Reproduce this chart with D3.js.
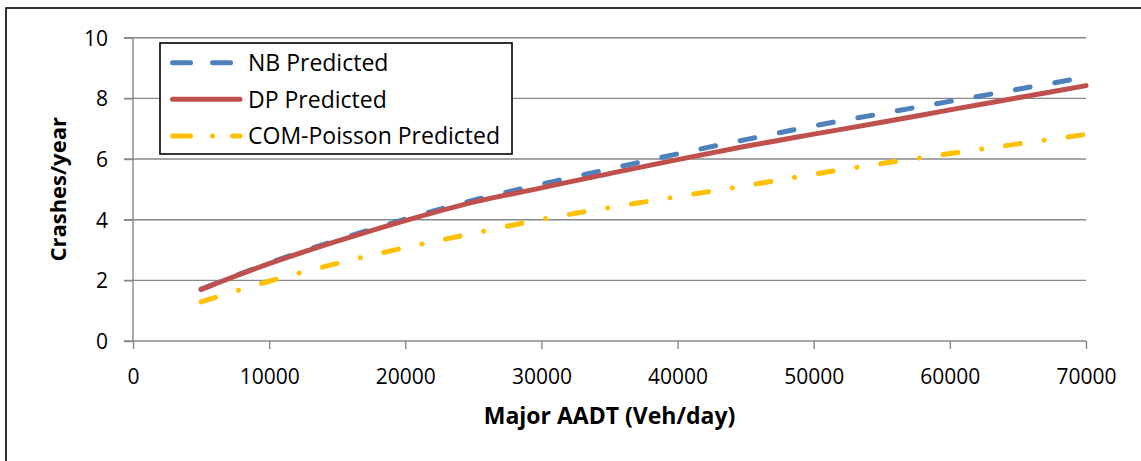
<!DOCTYPE html>
<html>
<head>
<meta charset="utf-8">
<script src="https://cdn.jsdelivr.net/npm/d3@7"></script>
<style>
  body { margin: 0; background: #fff; }
  text { font-family: 'Open Sans', sans-serif; fill: #000; }
</style>
</head>
<body>
<div id="chart"></div>
<script>
// values
const aadt = [5000, 10000, 15000, 20000, 25000, 30000, 35000, 40000, 45000, 50000, 55000, 60000, 65000, 70000]
const nbPredicted = [1.7, 2.57, 3.33, 4.02, 4.64, 5.17, 5.67, 6.17, 6.64, 7.09, 7.5, 7.9, 8.3, 8.7]
const dpPredicted = [1.7, 2.55, 3.29, 3.97, 4.58, 5.05, 5.52, 5.98, 6.42, 6.82, 7.21, 7.62, 8.02, 8.42]
const comPredicted = [1.29, 1.97, 2.56, 3.08, 3.55, 4.01, 4.4, 4.76, 5.12, 5.5, 5.85, 6.18, 6.5, 6.81]
const xTicks = [0, 10000, 20000, 30000, 40000, 50000, 60000, 70000]
const yTicks = [0, 2, 4, 6, 8, 10]

const series = [
  { name: 'NB Predicted', values: nbPredicted, color: '#4F81BD', dash: '15 25' },
  { name: 'DP Predicted', values: dpPredicted, color: '#C0504D', dash: null },
  { name: 'COM-Poisson Predicted', values: comPredicted, color: '#FFC000', dash: '15 24 0.1 24' },
]

const width = 1141
const height = 461
const margin = { top: 37.7, right: 55, bottom: 120, left: 133 }
const plotW = width - margin.left - margin.right
const plotH = height - margin.top - margin.bottom

const svg = d3.select('#chart').append('svg').attr('width', width).attr('height', height)

// outer frame
svg.append('rect')
  .attr('x', 6).attr('y', 8)
  .attr('width', width + 10).attr('height', height + 10)
  .attr('fill', 'none').attr('stroke', '#000').attr('stroke-width', 1.6)

const g = svg.append('g').attr('transform', `translate(${margin.left},${margin.top})`)

const x = d3.scaleLinear().domain([0, 70000]).range([0, plotW])
const y = d3.scaleLinear().domain([0, 10]).range([plotH, 0])

// grid lines
g.append('g')
  .selectAll('line')
  .data(yTicks.filter((d) => d > 0))
  .join('line')
  .attr('x1', -9).attr('x2', plotW)
  .attr('y1', (d) => y(d)).attr('y2', (d) => y(d))
  .attr('stroke', '#888').attr('stroke-width', 1.4)

// Y axis
const yAxis = g.append('g')
  .call(d3.axisLeft(y).tickValues(yTicks).tickSize(9).tickPadding(16))
yAxis.select('.domain').attr('stroke', '#888').attr('stroke-width', 1.4).attr('d', `M0,${plotH}V0`)
yAxis.selectAll('.tick line').attr('stroke', '#888').attr('stroke-width', 1.4)
yAxis.selectAll('text').style('font-size', '21px').attr('dy', '0.36em')

// X axis
const xAxis = g.append('g')
  .attr('transform', `translate(0,${plotH})`)
  .call(d3.axisBottom(x).tickValues(xTicks).tickFormat(d3.format('d')).tickSize(8).tickPadding(20))
xAxis.select('.domain').attr('stroke', '#888').attr('stroke-width', 1.4).attr('d', `M-9,0H${plotW}`)
xAxis.selectAll('.tick line').attr('stroke', '#888').attr('stroke-width', 1.4)
xAxis.selectAll('text').style('font-size', '21px')

// series lines
const line = d3.line()
  .x((d, i) => x(aadt[i]))
  .y((d) => y(d))
  .curve(d3.curveMonotoneX)

series.forEach((s) => {
  g.append('path')
    .datum(s.values)
    .attr('d', line)
    .attr('fill', 'none')
    .attr('stroke', s.color)
    .attr('stroke-width', 5)
    .attr('stroke-linecap', 'round')
    .attr('stroke-dasharray', s.dash)
})

// axis titles
svg.append('text')
  .attr('x', margin.left + plotW / 2).attr('y', 424)
  .attr('text-anchor', 'middle')
  .style('font-size', '23px').style('font-weight', 'bold')
  .text('Major AADT (Veh/day)')

svg.append('text')
  .attr('transform', `translate(66,${margin.top + plotH / 2}) rotate(-90)`)
  .attr('text-anchor', 'middle')
  .style('font-size', '22px').style('font-weight', 'bold')
  .text('Crashes/year')

// legend
const legend = svg.append('g').attr('transform', 'translate(160,43)')
legend.append('rect')
  .attr('width', 352).attr('height', 111)
  .attr('fill', '#fff').attr('stroke', '#000').attr('stroke-width', 1.6)

const rowY = [19.7, 56.3, 93]
series.forEach((s, i) => {
  legend.append('line')
    .attr('x1', 12.5).attr('x2', 80)
    .attr('y1', rowY[i]).attr('y2', rowY[i])
    .attr('stroke', s.color).attr('stroke-width', 5)
    .attr('stroke-linecap', 'round')
    .attr('stroke-dasharray', i === 0 ? '18 22' : i === 2 ? '18 22 0.1 20' : null)
  legend.append('text')
    .attr('x', 88).attr('y', rowY[i])
    .attr('dy', '0.36em')
    .style('font-size', '23px')
    .text(s.name)
})
</script>
</body>
</html>
